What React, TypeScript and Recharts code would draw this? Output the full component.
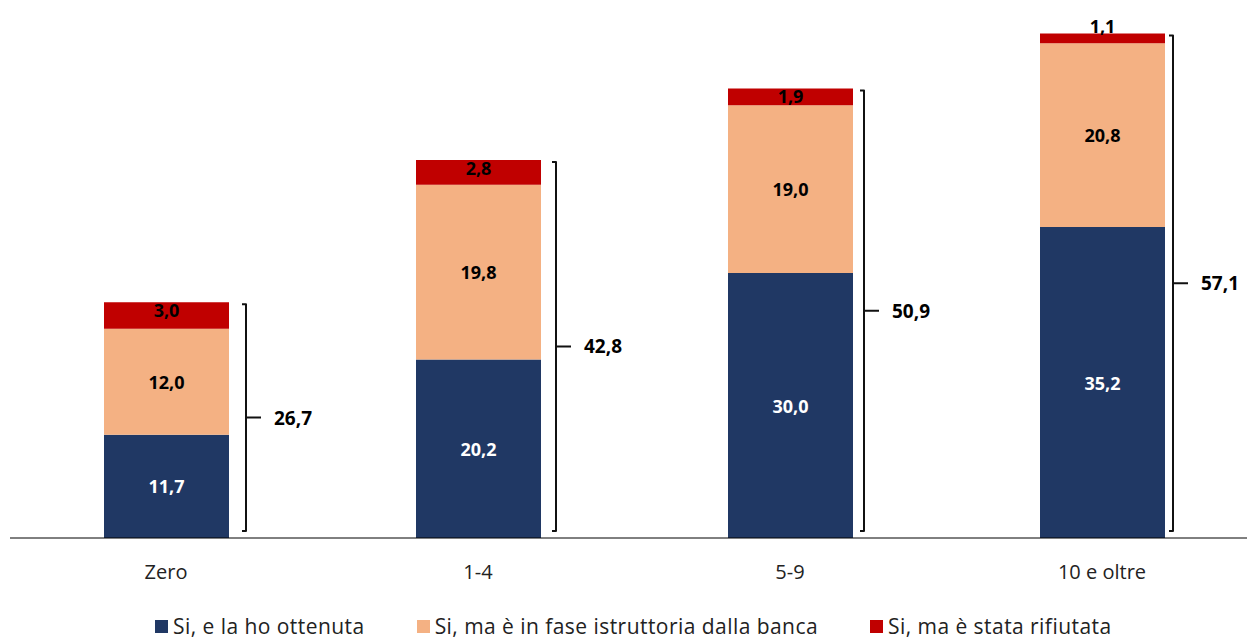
import React from "react";
import { BarChart, Bar, XAxis, YAxis, Legend, LabelList } from "recharts";

// values (percent)
const categories = ["Zero", "1-4", "5-9", "10 e oltre"];
const ottenuta = [11.7, 20.2, 30.0, 35.2];
const istruttoria = [12.0, 19.8, 19.0, 20.8];
const rifiutata = [3.0, 2.8, 1.9, 1.1];
const totals = [26.7, 42.8, 50.9, 57.1];

const seriesNames = {
  ok: "Si, e la ho ottenuta",
  wait: "Si, ma è in fase istruttoria dalla banca",
  no: "Si, ma è stata rifiutata",
};

const COLORS = { ok: "#203864", wait: "#F4B183", no: "#C00000" };

// gap between each bar and its brace (hand placed in the original)
const BRACE_GAP = [17, 15, 11, 8];

const data = categories.map((name, i) => ({
  name,
  ok: ottenuta[i],
  wait: istruttoria[i],
  no: rifiutata[i],
  total: totals[i],
}));

const FONT = "'Open Sans', Lato, sans-serif";
const fmt = (v: number) => Number(v).toFixed(1).replace(".", ",");

const centerLabel = (color: string) => (props: any) => {
  const { x, y, width, height, value } = props;
  return (
    <text
      x={x + width / 2}
      y={y + height / 2}
      textAnchor="middle"
      dominantBaseline="central"
      fill={color}
      fontFamily={FONT}
      fontWeight={700}
      fontSize={18}
    >
      {fmt(value)}
    </text>
  );
};

const topLabel = (props: any) => {
  const { x, y, width, height, value } = props;
  const ty = height < 12 ? y - 8 : y + 8;
  return (
    <text
      x={x + width / 2}
      y={ty}
      textAnchor="middle"
      dominantBaseline="central"
      fill="#000"
      fontFamily={FONT}
      fontWeight={700}
      fontSize={18}
    >
      {fmt(value)}
    </text>
  );
};

// brace on the right of each stack, with the total
const bracket = (props: any) => {
  const { x, y, width, height, index } = props;
  const row = data[index];
  const pxPerUnit = height / row.ok;
  const bottom = y + height;
  const top = bottom - row.total * pxPerUnit;
  const bx = x + width + BRACE_GAP[index];
  const t = top + 2;
  const b = bottom - 7;
  const mid = (t + b) / 2;
  return (
    <g>
      <path
        d={`M${bx - 4},${t} H${bx} V${b} H${bx - 4} M${bx},${mid} H${bx + 15}`}
        fill="none"
        stroke="#111"
        strokeWidth={2}
        strokeLinejoin="round"
      />
      <text
        x={bx + 28}
        y={mid}
        dominantBaseline="central"
        fill="#000"
        fontFamily={FONT}
        fontWeight={700}
        fontSize={19}
      >
        {fmt(row.total)}
      </text>
    </g>
  );
};

const renderLegend = () => (
  <div
    style={{
      display: "flex",
      gap: 52,
      paddingLeft: 155,
      fontFamily: FONT,
      fontSize: 21,
      letterSpacing: 0.45,
      lineHeight: "26px",
      color: "#222",
      whiteSpace: "nowrap",
    }}
  >
    {(["ok", "wait", "no"] as const).map((k) => (
      <div key={k} style={{ display: "flex", alignItems: "center" }}>
        <span
          style={{
            display: "inline-block",
            width: 13,
            height: 13,
            background: COLORS[k],
            marginRight: 5,
          }}
        />
        {seriesNames[k]}
      </div>
    ))}
  </div>
);

export default function App() {
  return (
    <div
      style={{
        position: "absolute",
        left: 0,
        top: 0,
        width: 1247,
        height: 639,
        overflow: "hidden",
        background: "#fff",
      }}
    >
      <BarChart
        width={1262}
        height={639}
        data={data}
        margin={{ top: 8, right: 4, bottom: 0, left: 10 }}
        barSize={125}
      >
        <XAxis
          dataKey="name"
          axisLine={{ stroke: "#000", strokeWidth: 1 }}
          tickLine={false}
          tickMargin={21}
          height={75}
          tick={{ fill: "#222", fontSize: 20, fontFamily: FONT }}
        />
        <YAxis hide domain={[0, 60]} />
        <Legend
          verticalAlign="bottom"
          content={renderLegend}
          wrapperStyle={{ left: 0, width: 1247, height: 26 }}
        />
        <Bar dataKey="ok" stackId="a" fill={COLORS.ok} name={seriesNames.ok} isAnimationActive={false}>
          <LabelList dataKey="ok" content={centerLabel("#fff")} />
          <LabelList dataKey="total" content={bracket} />
        </Bar>
        <Bar dataKey="wait" stackId="a" fill={COLORS.wait} name={seriesNames.wait} isAnimationActive={false}>
          <LabelList dataKey="wait" content={centerLabel("#000")} />
        </Bar>
        <Bar dataKey="no" stackId="a" fill={COLORS.no} name={seriesNames.no} isAnimationActive={false}>
          <LabelList dataKey="no" content={topLabel} />
        </Bar>
      </BarChart>
    </div>
  );
}
